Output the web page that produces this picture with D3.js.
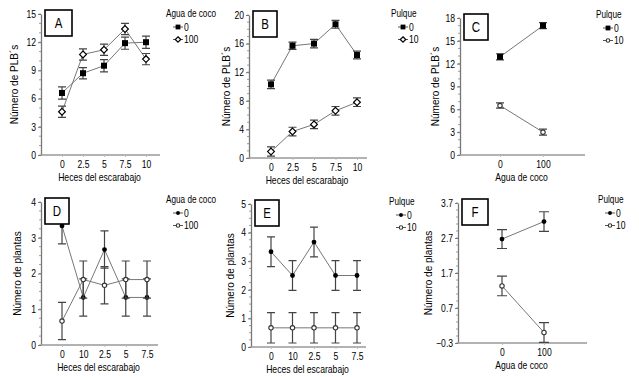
<!DOCTYPE html>
<html>
<head>
<meta charset="utf-8">
<script src="https://cdn.jsdelivr.net/npm/d3@7"></script>
<style>
  body { margin: 0; background: #fff; }
  svg { display: block; }
  text { font-family: "Liberation Sans", Arial, sans-serif; fill: #000; }
</style>
</head>
<body>
<script>
// categories
const hecesAB = ["0", "2.5", "5", "7.5", "10"]
const hecesDE = ["0", "10", "2.5", "5", "7.5"]
const aguaCats = ["0", "100"]

// A: PLB's by beetle feces, coconut water 0 / 100
const a0 = [6.6, 8.7, 9.5, 11.9, 12.0]
const a0err = [0.65, 0.6, 0.65, 0.65, 0.65]
const a100 = [4.6, 10.7, 11.2, 13.4, 10.2]
const a100err = [0.6, 0.6, 0.6, 0.6, 0.6]

// B: PLB's by beetle feces, pulque 0 / 10
const b0 = [10.3, 15.7, 16.0, 18.7, 14.4]
const b0err = [0.6, 0.5, 0.6, 0.55, 0.55]
const b10 = [0.9, 3.7, 4.7, 6.6, 7.8]
const b10err = [0.65, 0.6, 0.6, 0.6, 0.6]

// C: PLB's by coconut water, pulque 0 / 10
const c0 = [12.9, 17.0]
const c0err = [0.4, 0.4]
const c10 = [6.5, 3.0]
const c10err = [0.35, 0.4]

// D: plants by beetle feces, coconut water 0 / 100
const d0 = [3.33, 1.33, 2.67, 1.33, 1.33]
const d0err = [0.5, 0.52, 0.52, 0.52, 0.52]
const d100 = [0.67, 1.83, 1.67, 1.83, 1.83]
const d100err = [0.52, 0.52, 0.52, 0.52, 0.52]

// E: plants by beetle feces, pulque 0 / 10
const e0 = [3.33, 2.5, 3.67, 2.5, 2.5]
const e0err = [0.52, 0.52, 0.52, 0.52, 0.52]
const e10 = [0.67, 0.67, 0.67, 0.67, 0.67]
const e10err = [0.53, 0.53, 0.53, 0.53, 0.53]

// F: plants by coconut water, pulque 0 / 10
const f0 = [2.67, 3.17]
const f0err = [0.27, 0.28]
const f10 = [1.33, 0.0]
const f10err = [0.28, 0.28]

const yTicksA = [0, 3, 6, 9, 12, 15]
const yTicksB = [0, 4, 8, 12, 16, 20]
const yTicksC = [0, 3, 6, 9, 12, 15, 18]
const yTicksD = [0, 1, 2, 3, 4]
const yTicksE = [0, 1, 2, 3, 4, 5]
const yTicksF = [-0.3, 0.7, 1.7, 2.7, 3.7]

const SQ = "scale(0.82,1)" // the original picture is squeezed sideways

const svg = d3.select("body").append("svg")
    .attr("width", 639)
    .attr("height", 377)

// layout of the six panels
const panels = [
  { letter: "A", cats: hecesAB, s1: [a0, a0err], s2: [a100, a100err], ticks: yTicksA, minor: 1,
    left: 41, right: 160, px: [62, 146], top: 14, bottom: 155, ylab: "Número de PLB´s", ylx: 14,
    xlab: "Heces del escarabajo", legTitle: "Agua de coco", legNames: ["0", "100"], lx: 166, ly: 17,
    m1: "square", m2: "diamond", cap: 4, bw: 27 },
  { letter: "B", cats: hecesAB, s1: [b0, b0err], s2: [b10, b10err], ticks: yTicksB, minor: 1,
    left: 249, right: 367, px: [271, 357], top: 15, bottom: 158, ylab: "Número de PLB´s", ylx: 226,
    xlab: "Heces del escarabajo", legTitle: "Pulque", legNames: ["0", "10"], lx: 391, ly: 17,
    m1: "square", m2: "diamond", cap: 4, bw: 24 },
  { letter: "C", cats: aguaCats, s1: [c0, c0err], s2: [c10, c10err], ticks: yTicksC, minor: 1,
    left: 460, right: 585, px: [500, 543], top: 18, bottom: 155, ylab: "Número de PLB´s", ylx: 435,
    xlab: "Agua de coco", legTitle: "Pulque", legNames: ["0", "10"], lx: 596, ly: 18,
    m1: "square", m2: "circleO", cap: 4, bw: 24 },
  { letter: "D", cats: hecesDE, s1: [d0, d0err], s2: [d100, d100err], ticks: yTicksD, minor: 0.25,
    left: 41, right: 158, px: [62, 147], top: 202, bottom: 345, ylab: "Número de plantas", ylx: 17,
    xlab: "Heces del escarabajo", legTitle: "Agua de coco", legNames: ["0", "100"], lx: 166, ly: 203,
    m1: "circle", m2: "circleO", cap: 4, bw: 24 },
  { letter: "E", cats: hecesDE, s1: [e0, e0err], s2: [e10, e10err], ticks: yTicksE, minor: 0.25,
    left: 251, right: 366, px: [271, 357], top: 204, bottom: 347, ylab: "Número de plantas", ylx: 230,
    xlab: "Heces del escarabajo", legTitle: "Pulque", legNames: ["0", "10"], lx: 389, ly: 205,
    m1: "circle", m2: "circleO", cap: 4, bw: 24 },
  { letter: "F", cats: aguaCats, s1: [f0, f0err], s2: [f10, f10err], ticks: yTicksF, minor: 0.2,
    left: 458, right: 587, px: [502, 544], top: 203, bottom: 343, ylab: "Número de plantas", ylx: 428,
    xlab: "Agua de coco", legTitle: "Pulque", legNames: ["0", "10"], lx: 598, ly: 203,
    m1: "circle", m2: "circleO", cap: 5, bw: 26 }
]

// horizontal text, narrowed like the picture
function htext(g, x, y, str, size, anchor) {
  return g.append("text")
    .attr("transform", `translate(${x},${y}) ${SQ}`)
    .attr("text-anchor", anchor || "start")
    .attr("font-size", size)
    .text(str)
}

function marker(g, type, x, y, big) {
  const k = big ? 1 : 0.8
  if (type == "square") {
    g.append("rect").attr("x", x - 3 * k).attr("y", y - 3 * k)
      .attr("width", 6 * k).attr("height", 6 * k).attr("fill", "#000")
  } else if (type == "diamond") {
    const r = 3.4 * k
    g.append("path")
      .attr("d", `M${x},${y - r}L${x + r},${y}L${x},${y + r}L${x - r},${y}Z`)
      .attr("fill", "#fff").attr("stroke", "#000").attr("stroke-width", 1.2)
  } else if (type == "circle") {
    g.append("circle").attr("cx", x).attr("cy", y).attr("r", 2.4 * k).attr("fill", "#000")
  } else {
    g.append("circle").attr("cx", x).attr("cy", y).attr("r", 2.2 * k)
      .attr("fill", "#fff").attr("stroke", "#333").attr("stroke-width", 1.1)
  }
}

panels.forEach(p => {
  const g = svg.append("g")
  const x = d3.scalePoint().domain(p.cats).range(p.px)
  const ext = d3.extent(p.ticks)
  const y = d3.scaleLinear().domain(ext).range([p.bottom, p.top])

  // minor ticks
  const minors = d3.range(ext[0], ext[1] + 1e-6, p.minor)
  g.selectAll(".mn").data(minors).join("line")
    .attr("x1", p.left - 2).attr("x2", p.left)
    .attr("y1", d => y(d)).attr("y2", d => y(d))
    .attr("stroke", "#888").attr("stroke-width", 0.8)

  // y axis
  const yAxis = d3.axisLeft(y).tickValues(p.ticks).tickSize(3).tickSizeOuter(0)
    .tickFormat(d => d3.format(".1~f")(d))
  const ya = g.append("g").attr("transform", `translate(${p.left},0)`).call(yAxis)
  ya.select(".domain").attr("stroke", "#777").attr("stroke-width", 1.3)
  ya.selectAll(".tick line").attr("stroke", "#777")
  ya.selectAll(".tick text").attr("font-size", 10.5).attr("x", -6).attr("transform", SQ)
    .style("font-family", "'Liberation Sans', Arial, sans-serif")

  // x axis
  const xAxis = d3.axisBottom(x).tickSize(2).tickSizeOuter(0).tickPadding(4)
  const xa = g.append("g").attr("transform", `translate(0,${p.bottom})`).call(xAxis)
  xa.select(".domain").attr("d", `M${p.left},0H${p.right}`).attr("stroke", "#999").attr("stroke-width", 1.5)
  xa.selectAll(".tick line").attr("stroke", "#bbb")
  xa.selectAll(".tick text").attr("font-size", 10.5).attr("transform", SQ)
    .style("font-family", "'Liberation Sans', Arial, sans-serif")

  // axis titles
  htext(g, (p.left + p.right) / 2 - 1, p.bottom + 26, p.xlab, 10.5, "middle")
  g.append("text")
    .attr("transform", `translate(${p.ylx + 4},${(p.top + p.bottom) / 2}) rotate(-90)`)
    .attr("text-anchor", "middle").attr("font-size", 10).text(p.ylab)

  // two series
  const series = [[p.s1, p.m1], [p.s2, p.m2]]
  series.forEach(([s, m]) => {
    const pts = p.cats.map((c, i) => ({ c: c, v: s[0][i], e: s[1][i] }))
    g.append("path").datum(pts)
      .attr("d", d3.line().x(d => x(d.c)).y(d => y(d.v)))
      .attr("fill", "none").attr("stroke", "#777").attr("stroke-width", 1)
    pts.forEach(d => {
      const cx = x(d.c)
      g.append("path")
        .attr("d", `M${cx},${y(d.v - d.e)}V${y(d.v + d.e)}M${cx - p.cap},${y(d.v - d.e)}H${cx + p.cap}M${cx - p.cap},${y(d.v + d.e)}H${cx + p.cap}`)
        .attr("stroke", "#444").attr("stroke-width", 1.2).attr("fill", "none")
    })
    pts.forEach(d => marker(g, m, x(d.c), y(d.v), true))
  })

  // panel letter box
  g.append("rect").attr("x", p.left + 4).attr("y", p.top - 4)
    .attr("width", p.bw).attr("height", 26)
    .attr("fill", "#fff").attr("stroke", "#000").attr("stroke-width", 1.6)
  htext(g, p.left + 4 + p.bw / 2, p.top + 14, p.letter, 14, "middle")

  // legend
  htext(g, p.lx, p.ly, p.legTitle, 10)
  p.legNames.forEach((n, i) => {
    const ly = p.ly + 10 + i * 12.5
    const mx = p.lx + 12
    g.append("line").attr("x1", mx - 5).attr("x2", mx + 5).attr("y1", ly).attr("y2", ly)
      .attr("stroke", "#555")
    marker(g, i == 0 ? p.m1 : p.m2, mx, ly, false)
    htext(g, mx + 6, ly + 3.5, n, 10.5)
  })
})
</script>
</body>
</html>
